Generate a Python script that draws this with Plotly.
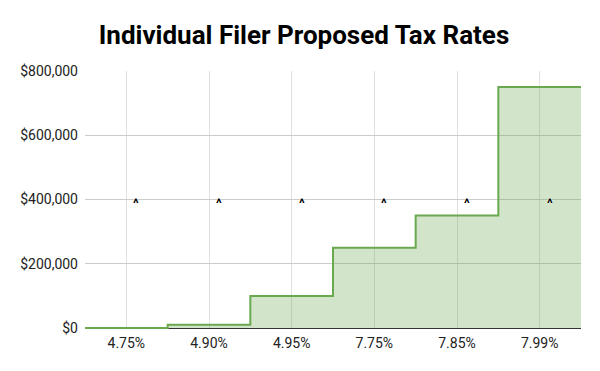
import plotly.graph_objects as go

categories = ["4.75%", "4.90%", "4.95%", "7.75%", "7.85%", "7.99%"]
income_thresholds = [0, 10000, 100000, 250000, 350000, 750000]
marker_labels = ["^", "^", "^", "^", "^", "^"]
marker_level = 400000

n = len(categories)
edges = [i - 0.5 for i in range(n + 1)]
step_y = income_thresholds + [income_thresholds[-1]]

fig = go.Figure()
fig.add_trace(go.Scatter(
    x=edges, y=step_y, mode="lines", line_shape="hv",
    line=dict(color="#6aa84f", width=2),
    fill="tozeroy", fillcolor="rgba(106,168,79,0.3)",
    hoverinfo="skip", showlegend=False, cliponaxis=False,
))
for i, lab in enumerate(marker_labels):
    fig.add_annotation(x=i, y=marker_level, text="<b>" + lab + "</b>", showarrow=False,
                       xshift=10, yshift=-4,
                       font=dict(family="Roboto", size=13, color="#000000",
                                 shadow="0 0 2px white"))

fig.update_layout(
    width=592, height=363,
    margin=dict(l=77, r=19, t=63, b=42),
    paper_bgcolor="white", plot_bgcolor="white",
    title=dict(text="<b>Individual Filer Proposed Tax Rates</b>", x=0.5, xanchor="center",
               y=0.926, yanchor="middle",
               font=dict(family="Roboto", size=26, color="#000000")),
    xaxis=dict(range=[-0.5, n - 0.5], tickvals=list(range(n)), ticktext=categories,
               showgrid=True, gridcolor="#e0e0e0", zeroline=False, showline=False,
               ticks="", ticklabelstandoff=4, layer="below traces",
               tickfont=dict(family="Roboto", size=14, color="#222222")),
    yaxis=dict(range=[-3000, 800000], tickvals=[0, 200000, 400000, 600000, 800000],
               ticktext=["$0", "$200,000", "$400,000", "$600,000", "$800,000"],
               showgrid=True, gridcolor="#cccccc", zeroline=True, zerolinecolor="#333333",
               zerolinewidth=1, showline=False, ticks="", ticklabelstandoff=6,
               layer="below traces",
               tickfont=dict(family="Roboto", size=14, color="#222222")),
)
fig.write_html("out.html")
